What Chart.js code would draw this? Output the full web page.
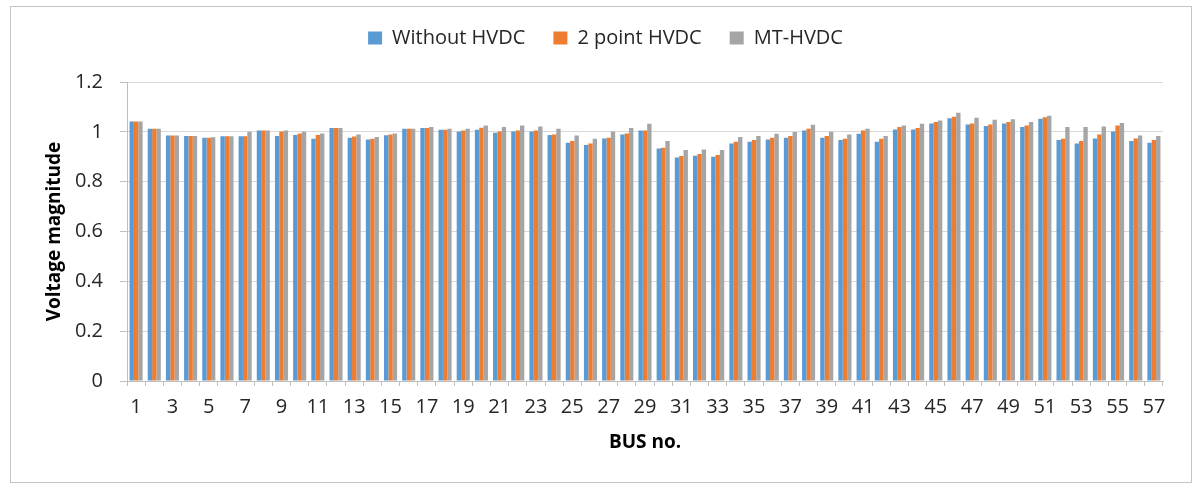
<!DOCTYPE html>
<html>
<head>
<meta charset="utf-8">
<script src="https://cdn.jsdelivr.net/npm/chart.js@4.4.1/dist/chart.umd.min.js"></script>
<style>
  html, body { margin: 0; padding: 0; background: #fff; }
  #wrap { position: relative; width: 1200px; height: 491px; }
  #busChart { position: absolute; left: 0; top: 0; }
  #frame {
    position: absolute; left: 10px; top: 6px; width: 1180px; height: 475px;
    border: 1px solid #c4c4c4; pointer-events: none;
  }
</style>
</head>
<body>
<div id="wrap">
  <canvas id="busChart" width="1200" height="491"></canvas>
  <div id="frame"></div>
</div>
<script>
const buses = [];
for (let i = 1; i <= 57; i++) buses.push(String(i));

const withoutHvdc = [
  1.041, 1.012, 0.985, 0.983, 0.976, 0.982, 0.982, 1.005, 0.983, 0.987,
  0.972, 1.015, 0.976, 0.969, 0.986, 1.012, 1.015, 1.008, 1.001, 1.008,
  0.996, 1.001, 1.001, 0.987, 0.956, 0.947, 0.973, 0.989, 1.005, 0.933,
  0.897, 0.904, 0.900, 0.953, 0.960, 0.969, 0.976, 1.005, 0.976, 0.967,
  0.992, 0.960, 1.009, 1.009, 1.033, 1.055, 1.029, 1.023, 1.033, 1.019,
  1.053, 0.967, 0.953, 0.973, 1.001, 0.963, 0.956
];

const twoPointHvdc = [
  1.041, 1.012, 0.985, 0.983, 0.976, 0.982, 0.982, 1.005, 1.001, 0.993,
  0.987, 1.015, 0.981, 0.972, 0.989, 1.012, 1.015, 1.008, 1.005, 1.016,
  1.001, 1.005, 1.005, 0.989, 0.963, 0.953, 0.976, 0.993, 1.005, 0.936,
  0.903, 0.911, 0.907, 0.960, 0.967, 0.976, 0.983, 1.012, 0.983, 0.972,
  1.005, 0.972, 1.019, 1.015, 1.039, 1.061, 1.033, 1.029, 1.039, 1.025,
  1.059, 0.972, 0.963, 0.989, 1.025, 0.973, 0.967
];

const mtHvdc = [
  1.041, 1.012, 0.985, 0.983, 0.978, 0.982, 1.000, 1.005, 1.005, 1.000,
  0.993, 1.015, 0.989, 0.979, 0.993, 1.012, 1.019, 1.012, 1.012, 1.025,
  1.019, 1.025, 1.021, 1.012, 0.985, 0.972, 1.001, 1.015, 1.032, 0.963,
  0.927, 0.929, 0.927, 0.979, 0.983, 0.992, 0.999, 1.028, 1.000, 0.989,
  1.012, 0.983, 1.025, 1.032, 1.045, 1.077, 1.057, 1.048, 1.051, 1.039,
  1.065, 1.019, 1.019, 1.021, 1.035, 0.985, 0.983
];

const yTicks = [0, 0.2, 0.4, 0.6, 0.8, 1, 1.2];

const COLORS = {
  without: '#5b9bd5',
  twoPoint: '#ed7d31',
  mt: '#a5a5a5'
};

const FONT = "'Open Sans', 'Noto Sans', sans-serif";

function series(label, data, color) {
  return {
    label,
    data,
    backgroundColor: color,
    borderWidth: 0,
    barPercentage: 1.0,
    categoryPercentage: 0.72
  };
}

// extra space between the legend and the plot
const legendGap = {
  id: 'legendGap',
  beforeInit(chart) {
    const fit = chart.legend.fit;
    chart.legend.fit = function () {
      fit.bind(chart.legend)();
      this.height += 24;
    };
  }
};

new Chart(document.getElementById('busChart'), {
  type: 'bar',
  data: {
    labels: buses,
    datasets: [
      series('Without HVDC', withoutHvdc, COLORS.without),
      series('2 point HVDC', twoPointHvdc, COLORS.twoPoint),
      series('MT-HVDC', mtHvdc, COLORS.mt)
    ]
  },
  plugins: [legendGap],
  options: {
    responsive: false,
    animation: false,
    layout: { padding: { left: 48, right: 37, top: 0, bottom: 0 } },
    plugins: {
      tooltip: { enabled: false },
      legend: {
        position: 'top',
        labels: {
          font: { family: FONT, size: 20 },
          color: '#262626',
          boxWidth: 14,
          boxHeight: 13,
          padding: 28
        }
      }
    },
    scales: {
      x: {
        afterFit: (scale) => { scale.height = 110; },
        grid: {
          drawOnChartArea: false,
          drawTicks: true,
          tickLength: 5,
          tickColor: '#bfbfbf',
          offset: true
        },
        border: { color: '#bfbfbf', width: 1 },
        ticks: {
          autoSkip: false,
          maxRotation: 0,
          padding: 9,
          color: '#262626',
          font: { family: FONT, size: 20 },
          callback: (value, index) => (index % 2 === 0 ? buses[index] : '')
        },
        title: {
          display: true,
          text: 'BUS no.',
          color: '#000',
          font: { family: FONT, size: 19, weight: 'bold' },
          padding: { top: 0, bottom: 37 }
        }
      },
      y: {
        min: 0,
        max: 1.2,
        afterFit: (scale) => { scale.width = 79; },
        afterBuildTicks: (scale) => { scale.ticks = yTicks.map((v) => ({ value: v })); },
        grid: {
          color: '#d9d9d9',
          tickColor: '#bfbfbf',
          tickLength: 7
        },
        border: { color: '#bfbfbf', width: 1 },
        ticks: {
          padding: 17,
          color: '#262626',
          font: { family: FONT, size: 20 },
          callback: (value) => String(Math.round(value * 10) / 10)
        },
        title: {
          display: true,
          text: 'Voltage magnitude',
          color: '#000',
          font: { family: FONT, size: 19, weight: 'bold' },
          padding: { top: -5, bottom: 0 }
        }
      }
    }
  }
});
</script>
</body>
</html>
